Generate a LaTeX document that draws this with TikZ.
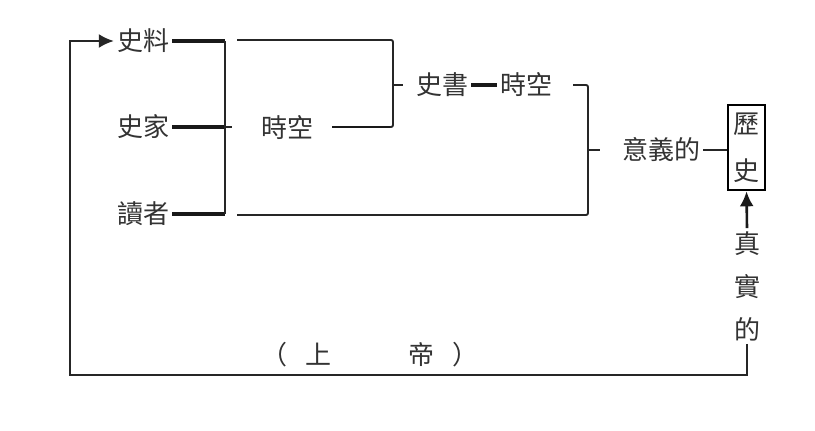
\documentclass[tikz,border=0pt]{standalone}
\usepackage{fontspec}
\newfontfamily\cjk{Noto Sans CJK TC}
\usetikzlibrary{arrows.meta}
\begin{document}
\begin{tikzpicture}[x=1pt,y=-1pt,
  lbl/.style={font=\cjk\fontsize{26}{30}\selectfont, text=black!80, inner sep=3pt},
  heavy/.style={line width=3.2pt, black!90},
  brk/.style={line width=1.9pt, black!85, rounded corners=2pt},
  thin/.style={line width=1.9pt, black!85},
  arrowtip/.style={-{Latex[length=15pt,width=14pt]}}]
\useasboundingbox (0,0) rectangle (815,431);
% texts
\node[lbl] (shiliao) at (143,41) {史料};
\node[lbl] (shijia) at (143,127) {史家};
\node[lbl] (duzhe) at (143,214) {讀者};
\node[lbl] (shikong) at (287,128) {時空};
\node[lbl] (shishu) at (442,85) {史書};
\node[lbl] (shikongb) at (526,85) {時空};
\node[lbl] (yiyi) at (661,150) {意義的};
\node[draw, line width=2.6pt, minimum width=37pt, minimum height=85pt, inner sep=0pt,
      align=center, font=\cjk\fontsize{26}{47}\selectfont, text=black!80] (lishi) at (746.5,147.5) {歷\\史};
\node[lbl, align=center, font=\cjk\fontsize{26}{43}\selectfont] (zsd) at (747,286) {真\\實\\的};
\node[lbl, inner sep=0pt] (shangdi) at (370,355) {（\hspace{17.75pt}上\hspace{77pt}帝\hspace{17.75pt}）};
% bracket 1
\coordinate (b1t) at (225,41);
\coordinate (b1m) at (225,127);
\coordinate (b1b) at (225,214);
\draw[heavy] (shiliao.east) -- (shiliao.east -| b1t);
\draw[heavy] (shijia.east) -- (shijia.east -| b1m);
\draw[heavy] (duzhe.east) -- (duzhe.east -| b1b);
\draw[brk] (b1t) -- (b1b);
\draw[thin] (b1m) -- (232,127);
% bracket 2
\coordinate (b2a) at (237,40);
\coordinate (b2t) at (393,40);
\coordinate (b2b) at (393,127);
\coordinate (skr) at (332,127);
\draw[brk] (b2a) -- (b2t) -- (b2b) -- (skr);
\draw[line width=2.6pt, black!90] (skr) -- (390,127);
\coordinate (b2c) at (393,85);
\coordinate (b2e) at (403,85);
\draw[thin] (b2c) -- (b2e);
\draw[heavy] (shishu.east) -- (shikongb.west);
% bracket 3
\coordinate (b3a) at (573,85);
\coordinate (b3c) at (588,150);
\coordinate (b3e) at (600,150);
\coordinate (b3s) at (237,215);
\draw[brk] (b3a) -- (588,85) -- (588,215) -- (b3s);
\draw[thin] (b3c) -- (b3e);
\draw[thin] (yiyi.east) -- (lishi.west |- yiyi.east);
% arrow into box
\draw[line width=2.6pt, black!90, arrowtip] (zsd.north) -- (lishi.south);
% loop back
\draw[line width=2pt, black!85, arrowtip] (zsd.south) -- (747,375) -- (70,375) -- (70,41) -- (shiliao.west);
\end{tikzpicture}
\end{document}
